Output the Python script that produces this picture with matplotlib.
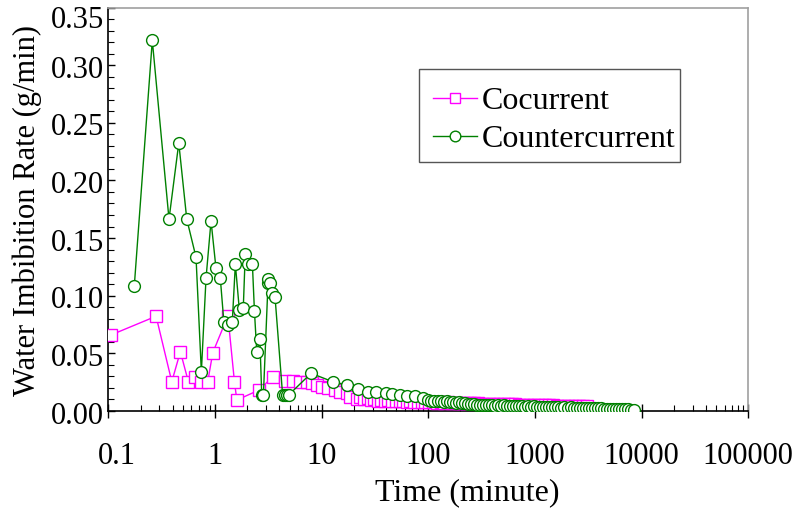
import matplotlib
matplotlib.use("Agg")
import matplotlib.pyplot as plt
from matplotlib.ticker import FixedLocator, FixedFormatter, MultipleLocator
from matplotlib.transforms import ScaledTranslation
from matplotlib.patches import Rectangle

# Cocurrent imbibition: time (minute) and water imbibition rate (g/min)
t_co = [0.106, 0.280, 0.393, 0.473, 0.562, 0.649, 0.739, 0.854, 0.952,
        1.32, 1.52, 1.60, 2.59, 3.48, 4.54, 5.36, 6.27, 7.3, 8.1, 9.0,
        10.1, 11.5, 13.4, 14.9, 17.3, 18.5,
        21.5, 23, 25, 27, 29, 31, 34, 36, 39, 42, 46, 50, 54, 58, 63, 68, 74,
        80, 87, 94, 102, 110, 120, 130, 141, 153, 166, 180, 195, 211, 229, 248,
        269, 292, 316, 343, 372, 403, 437, 474, 514, 557, 604, 655, 710, 770,
        835, 905, 981, 1064, 1153, 1250, 1356, 1470, 1594, 1728, 1873, 2031,
        2202, 2387, 2588, 2806, 3042]
r_co = [0.066, 0.0822, 0.0254, 0.0515, 0.0254, 0.0293, 0.0254, 0.0254, 0.0506,
        0.0825, 0.0254, 0.0095, 0.0182, 0.0298, 0.026, 0.026, 0.0249, 0.0254,
        0.024, 0.0226, 0.0211, 0.0197, 0.0182, 0.0168, 0.0154, 0.0124,
        0.0105, 0.0118, 0.0100, 0.0110, 0.0095, 0.0102, 0.0090, 0.0097, 0.0088,
        0.0092, 0.0085, 0.0089, 0.0083, 0.0086, 0.0080, 0.0083, 0.0078, 0.0080,
        0.0076, 0.0078, 0.0075, 0.0077, 0.0073, 0.0075, 0.0072, 0.0074, 0.0070,
        0.0072, 0.0069, 0.0070, 0.0067, 0.0068, 0.0066, 0.0067, 0.0064, 0.0065,
        0.0063, 0.0064, 0.0061, 0.0062, 0.0060, 0.0060, 0.0058, 0.0058, 0.0056,
        0.0056, 0.0054, 0.0054, 0.0052, 0.0052, 0.0050, 0.0050, 0.0048, 0.0048,
        0.0046, 0.0046, 0.0045, 0.0044, 0.0043, 0.0042, 0.0041, 0.0040, 0.0040]

# Countercurrent imbibition
t_cc = [0.175, 0.258, 0.370, 0.457, 0.543, 0.663, 0.744, 0.823, 0.917, 1.02,
        1.12, 1.21, 1.32, 1.45, 1.55, 1.69, 1.84, 1.92, 2.05, 2.24, 2.34, 2.46,
        2.63, 2.74, 2.84, 3.14, 3.16, 3.28, 3.40, 3.65, 4.30, 4.50, 4.70, 4.90,
        7.95, 12.7, 17.2, 22.1, 27.1, 32.2, 40.2, 45.5, 54.3, 62.8, 75.2, 90,
        100, 107, 114, 122, 130, 139, 148, 158, 169, 180, 192, 205, 219, 234,
        250, 267, 285, 304, 325, 347, 370, 395, 422, 450, 480, 512, 547, 584,
        623, 665, 710, 758, 809, 864, 922, 984, 1050, 1120, 1196, 1277, 1363,
        1455, 1553, 1658, 1770, 1890, 2018, 2154, 2300, 2455, 2620, 2797, 2986,
        3188, 3403, 3633, 3878, 4140, 4420, 4718, 5037, 5377, 5740, 6128, 6542,
        6984, 7455, 7959, 8500]
r_cc = [0.1088, 0.3214, 0.1664, 0.2324, 0.1664, 0.1334, 0.0339, 0.1152, 0.1649,
        0.1239, 0.1152, 0.0770, 0.0744, 0.0770, 0.1273, 0.0877, 0.0897, 0.1363,
        0.1273, 0.1273, 0.0868, 0.0515, 0.0628, 0.0139, 0.0139, 0.1114, 0.1146,
        0.1114, 0.1027, 0.0990, 0.0139, 0.0139, 0.0139, 0.0139, 0.0327, 0.0254,
        0.0226, 0.0188, 0.0168, 0.0168, 0.0158, 0.0148, 0.0135, 0.0130, 0.0126,
        0.0110,
        0.0095, 0.0090, 0.0088, 0.0087, 0.0084, 0.0081, 0.0083, 0.0080, 0.0076,
        0.0072, 0.0074, 0.0070, 0.0067, 0.0064, 0.0060, 0.0058, 0.0052, 0.0055,
        0.0050, 0.0054, 0.0049, 0.0052, 0.0047, 0.0050, 0.0045, 0.0048, 0.0044,
        0.0046, 0.0042, 0.0045, 0.0041, 0.0043, 0.0039, 0.0041, 0.0038, 0.0040,
        0.0036, 0.0038, 0.0035, 0.0037, 0.0033, 0.0035, 0.0032, 0.0034, 0.0030,
        0.0032, 0.0029, 0.0031, 0.0028, 0.0029, 0.0026, 0.0028, 0.0025, 0.0026,
        0.0023, 0.0025, 0.0022, 0.0023, 0.0020, 0.0021, 0.0019, 0.0020, 0.0017,
        0.0018, 0.0016, 0.0015, 0.0014, 0.0013, 0.0010]

x_ticks = [0.1, 1, 10, 100, 1000, 10000, 100000]
x_tick_labels = ["0.1", "1", "10", "100", "1000", "10000", "100000"]
y_ticks = [0.00, 0.05, 0.10, 0.15, 0.20, 0.25, 0.30, 0.35]
y_tick_labels = ["0.00", "0.05", "0.10", "0.15", "0.20", "0.25", "0.30", "0.35"]

plt.rcParams["font.family"] = ["Liberation Serif", "DejaVu Serif"]

W, H = 811, 516
fig = plt.figure(figsize=(W / 100, H / 100), dpi=100)
x0, x1, y0, y1 = 108.4, 748.3, 411.0, 7.5
ax = fig.add_axes([x0 / W, 1 - y0 / H, (x1 - x0) / W, (y0 - y1) / H])

ax.plot(t_co, r_co, color="#ff00ff", lw=1.0, marker="s", ms=8,
        mfc="white", mec="#ff00ff", mew=1.0, label="Cocurrent", zorder=3)
ax.plot(t_cc, r_cc, color="#008000", lw=1.0, marker="o", ms=8.5,
        mfc="white", mec="#008000", mew=1.0, label="Countercurrent", zorder=4)

ax.set_xscale("log")
ax.set_xlim(0.1, 100000)
ax.set_ylim(0, 0.35)

ax.xaxis.set_major_locator(FixedLocator(x_ticks))
ax.xaxis.set_major_formatter(FixedFormatter(x_tick_labels))
minor_x = [m * 10.0 ** e for e in range(-1, 5) for m in range(2, 10)]
ax.xaxis.set_minor_locator(FixedLocator(minor_x))
ax.xaxis.set_minor_formatter(FixedFormatter([""] * len(minor_x)))
ax.yaxis.set_major_locator(FixedLocator(y_ticks))
ax.yaxis.set_major_formatter(FixedFormatter(y_tick_labels))
ax.yaxis.set_minor_locator(MultipleLocator(0.01))

ax.tick_params(axis="x", which="major", direction="inout", length=10, width=1,
               labelsize=22, pad=17)
ax.tick_params(axis="x", which="minor", direction="in", length=4, width=0.8)
ax.tick_params(axis="y", which="major", direction="in", length=5, width=1,
               labelsize=22, pad=3)
ax.tick_params(axis="y", which="minor", direction="in", length=4, width=0.8)
ax.tick_params(top=False, right=False, which="both")

# nudge tick labels: y labels sit slightly low, end labels kept inside the canvas
fig.canvas.draw()
ylabels = ax.get_yticklabels()
for i, lab in enumerate(ylabels):
    dy = -9 if i == len(ylabels) - 1 else -1.5
    lab.set_transform(lab.get_transform() +
                      ScaledTranslation(0, dy / 100, fig.dpi_scale_trans))
xlabels = ax.get_xticklabels()
xlabels[0].set_transform(xlabels[0].get_transform() +
                         ScaledTranslation(8 / 100, 0, fig.dpi_scale_trans))

for side in ("left", "bottom"):
    ax.spines[side].set_color("black")
    ax.spines[side].set_linewidth(1.2)
for side in ("top", "right"):
    ax.spines[side].set_color("#a0a0a0")
    ax.spines[side].set_linewidth(1.2)

fig.text(467 / W, 1 - 493 / H, "Time (minute)", fontsize=23,
         ha="center", va="center")
fig.text(27 / W, 1 - 210 / H, "Water Imbibition Rate (g/min)", fontsize=22,
         ha="center", va="center", rotation=90)

# legend box and entries
box = Rectangle(((419 - x0) / (x1 - x0), (y0 - 162) / (y0 - y1)),
                261 / (x1 - x0), 93 / (y0 - y1), transform=ax.transAxes,
                facecolor="white", edgecolor="#555555", lw=1.0, zorder=5)
ax.add_patch(box)
leg = ax.legend(loc="upper left",
                bbox_to_anchor=((433 - x0) / (x1 - x0), (y0 - 87) / (y0 - y1)),
                borderaxespad=0, borderpad=0, fontsize=23, handlelength=1.38,
                handletextpad=0.15, labelspacing=0.25, frameon=False,
                markerscale=0.9)
leg.set_zorder(6)

fig.savefig("out.png", dpi=100)
